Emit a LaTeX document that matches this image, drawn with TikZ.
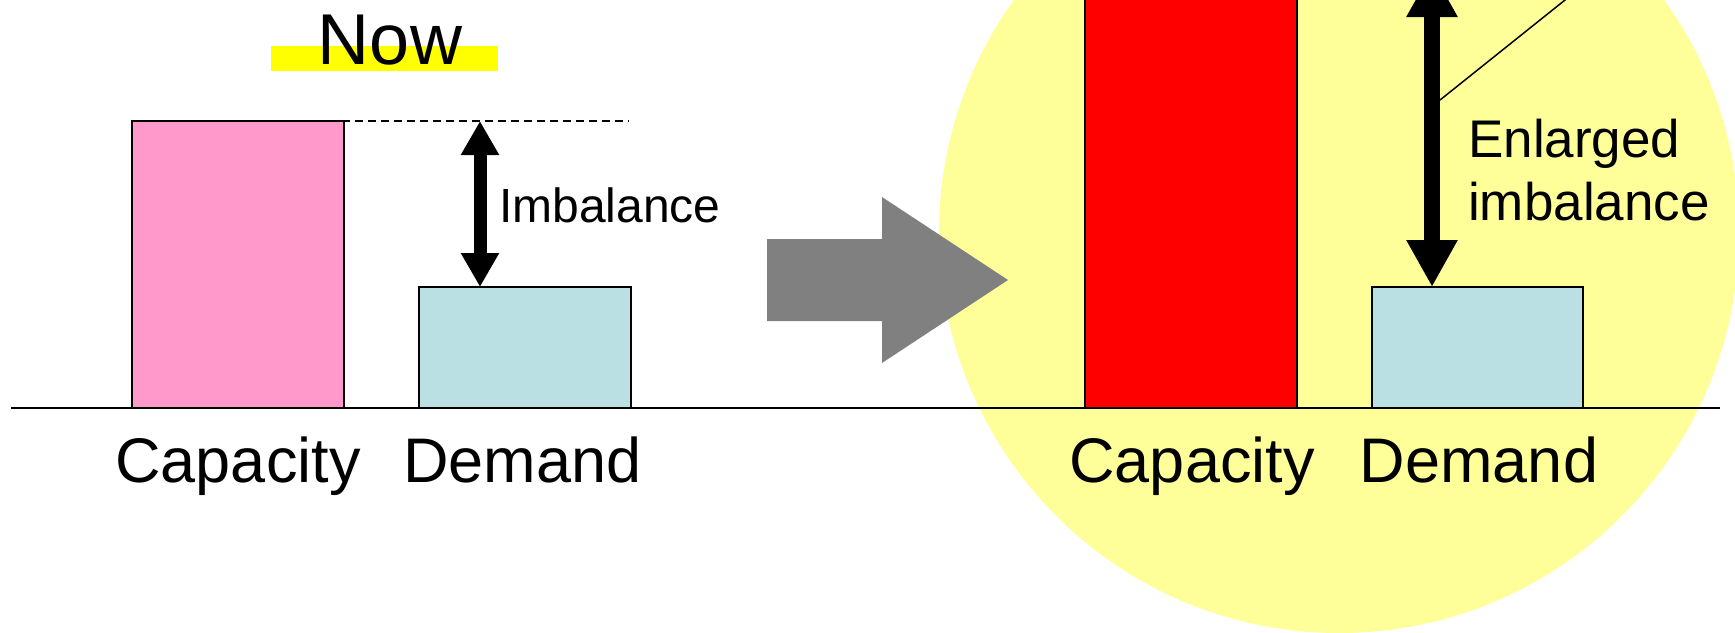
\documentclass[tikz,border=0pt]{standalone}
\usepackage{fontspec}
\setmainfont{Liberation Sans}
\usetikzlibrary{arrows.meta}
\definecolor{pinkbar}{HTML}{FF99CC}
\definecolor{bluebar}{HTML}{BBE0E3}
\definecolor{circlefill}{HTML}{FFFF99}
\definecolor{hlyellow}{HTML}{FFFF00}
\definecolor{arrowgray}{HTML}{808080}
\begin{document}
\begin{tikzpicture}[x=1pt,y=-1pt,
  bar/.style={draw=black, line width=1.6pt, inner sep=0pt, outer sep=0pt, anchor=south west},
  lbl/.style={inner sep=0pt, anchor=base, font=\fontsize{63}{63}\selectfont},
  smalllbl/.style={inner sep=0pt, anchor=base west},
  thinarrow/.style={line width=13pt, {Triangle[length=34pt,width=36pt]}-{Triangle[length=34pt,width=36pt]}},
  bigarrow/.style={line width=16pt, {Triangle[length=47pt,width=48pt]}-{Triangle[length=47pt,width=48pt]}}]
\useasboundingbox (0,0) rectangle (1735,632);
\clip (0,0) rectangle (1735,632);
% yellow circle
\fill[circlefill] (1339,233) circle[radius=400];
% highlight and title
\fill[hlyellow] (271,46) rectangle (498,70.5);
\node[lbl, font=\fontsize{72}{72}\selectfont] (now) at (390,64.5) {Now};
% baseline
\draw[line width=2pt] (11,408) -- (1720,408);
% bars
\node[bar, fill=pinkbar, minimum width=212pt, minimum height=287pt] (cap1) at (132,408) {};
\node[bar, fill=bluebar, minimum width=212pt, minimum height=121pt] (dem1) at (419,408) {};
\node[bar, fill=red, line width=1.2pt, minimum width=212pt, minimum height=460pt] (cap2) at (1085,408) {};
\node[bar, fill=bluebar, line width=1.2pt, minimum width=211pt, minimum height=121pt] (dem2) at (1372,408) {};
% dashed reference line
\coordinate (dashL) at (238,121);
\coordinate (dashR) at (629,121);
\draw[line width=1.5pt, dash pattern=on 8pt off 5pt] (dashL) -- (dashR);
% imbalance arrow
\coordinate (imbTop) at (480,121);
\draw[thinarrow] (imbTop) -- (imbTop |- dem1.north);
\node[smalllbl, font=\fontsize{48}{48}\selectfont] (imb) at (499,222) {Imbalance};
% gray transition arrow
\fill[arrowgray] (767,239) -- (882,239) -- (882,197) -- (1008,280) -- (882,363) -- (882,321) -- (767,321) -- cycle;
% enlarged imbalance arrow
\coordinate (enlTop) at (1432,-30);
\draw[bigarrow] (enlTop) -- (enlTop |- dem2.north);
\coordinate (lead) at (1440,100);
\coordinate (leadEnd) at (1690,-100);
\draw[line width=1.5pt] (lead) -- (leadEnd);
\node[smalllbl, font=\fontsize{53}{53}\selectfont] (enl1) at (1468,157) {Enlarged};
\node[smalllbl, font=\fontsize{53}{53}\selectfont] (enl2) at (1468,220) {imbalance};
% labels
\node[lbl] (capl1) at (238,482) {Capacity};
\node[lbl] (deml1) at (522.5,482) {Demand};
\node[lbl] (capl2) at (1192,482) {Capacity};
\node[lbl] (deml2) at (1479,482) {Demand};
\end{tikzpicture}
\end{document}
